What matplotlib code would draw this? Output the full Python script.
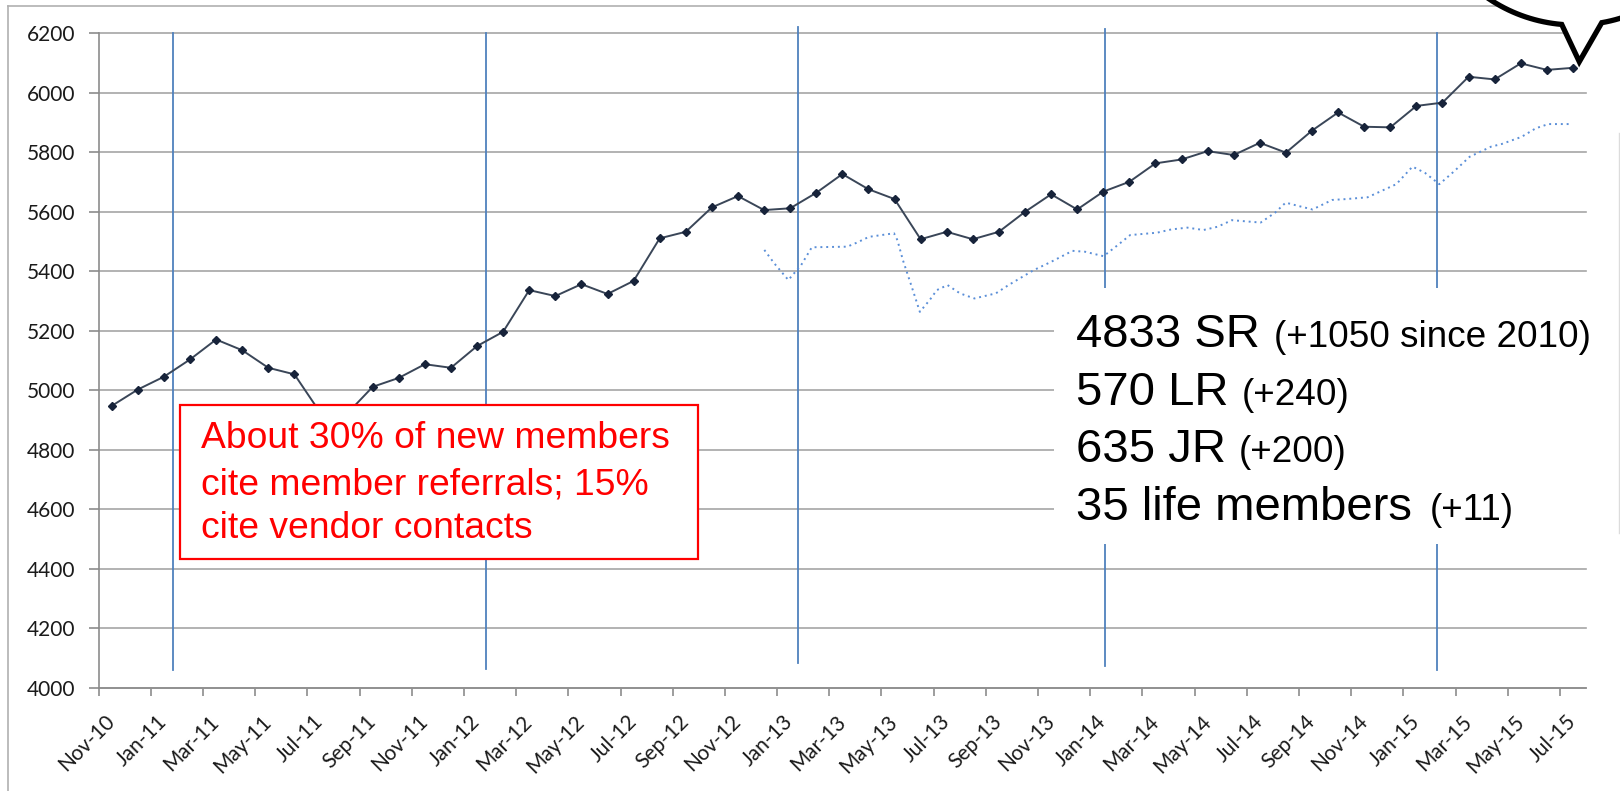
import matplotlib
matplotlib.use("Agg")
import matplotlib.pyplot as plt
from matplotlib.patches import Rectangle, PathPatch
from matplotlib.path import Path
from matplotlib.lines import Line2D
import numpy as np
import pandas as pd

# ---------------- data ----------------
months = list(pd.date_range("2010-11-01", periods=57, freq="MS").strftime("%b-%y"))
members = [4948, 5003, 5046, 5104, 5171, 5135, 5076, 5054, 4924, 4920,
           5012, 5042, 5088, 5076, 5149, 5197, 5337, 5317, 5357, 5324,
           5368, 5511, 5533, 5615, 5653, 5606, 5612, 5664, 5727, 5676,
           5643, 5508, 5533, 5508, 5533, 5600, 5659, 5608, 5668, 5701,
           5763, 5776, 5804, 5791, 5832, 5799, 5873, 5934, 5886, 5884,
           5956, 5967, 6054, 6045, 6099, 6077, 6084]
# second (dotted) series, positions in month units from Nov-10
blue_x = [25.01, 25.39, 25.93, 26.42, 26.83, 28.19, 28.54, 29.02, 29.98, 30.11,
          30.32, 30.66, 30.97, 31.35, 31.62, 32.03, 32.51, 33.06, 33.88, 34.37,
          35.33, 36.00, 36.82, 37.30, 38.01, 38.55, 39.03, 40.06, 40.61, 41.22,
          41.84, 42.38, 42.93, 43.48, 44.03, 44.58, 44.99, 45.47, 46.02, 46.77,
          47.32, 48.13, 48.68, 49.23, 49.85, 50.33, 50.88, 51.43, 52.04, 52.86,
          53.27, 54.03, 54.58, 55.06, 55.88]
blue_y = [5472, 5427, 5371, 5421, 5481, 5483, 5496, 5516, 5528, 5505,
          5438, 5348, 5264, 5304, 5337, 5354, 5326, 5309, 5326, 5354,
          5404, 5432, 5469, 5466, 5451, 5488, 5522, 5530, 5541, 5547,
          5539, 5550, 5572, 5568, 5564, 5597, 5631, 5620, 5608, 5640,
          5643, 5649, 5671, 5693, 5752, 5731, 5693, 5735, 5785, 5819,
          5828, 5852, 5881, 5895, 5895]
# vertical marker lines (month position, bottom value, top value)
vline_x = [2.35, 14.34, 26.31, 38.07, 50.78]
vline_bottom = [4060, 4064, 4085, 4073, 4060]
vline_top = [6200, 6200, 6222, 6213, 6202]
yticks = list(range(4000, 6201, 200))

box_lines = ["About 30% of new members",
             "cite member referrals; 15%",
             "cite vendor contacts"]
stat_big = ["4833 SR", "570 LR", "635 JR", "35 life members"]
stat_small = ["(+1050 since 2010)", "(+240)", "(+200)", "(+11)"]

# ---------------- figure ----------------
W, H, DPI = 1620, 791, 100
fig = plt.figure(figsize=(W / DPI, H / DPI), dpi=DPI)
fig.patch.set_facecolor("white")


def fx(x):
    return x / W


def fy(y):
    return 1 - y / H


ax = fig.add_axes([fx(98.7), fy(688), (1586 - 98.7) / W, (688 - 33.3) / H])
ax.set_xlim(-0.5, 56.5)
ax.set_ylim(4000, 6200)

grey = "#a6a6a6"
ax.set_yticks(yticks)
ax.grid(axis="y", color=grey, lw=1.2)
ax.set_axisbelow(True)
for gl in ax.get_ygridlines():
    gl.set_clip_on(False)
for s in ["top", "right"]:
    ax.spines[s].set_visible(False)
for s in ["left", "bottom"]:
    ax.spines[s].set_color("#8c8c8c")
    ax.spines[s].set_linewidth(1.2)

ax.tick_params(axis="y", length=7, width=1.2, color="#8c8c8c", pad=10,
               labelsize=15, labelcolor="#1a1a1a")
for lab in ax.get_yticklabels():
    lab.set_family("Lato")

ax.set_xticks(np.arange(-0.5, 56.6, 2))
ax.set_xticklabels([])
ax.tick_params(axis="x", which="major", length=5.5, width=1.2, color="#8c8c8c")
ax.set_xticks(np.arange(0, 57, 2), minor=True)
ax.set_xticklabels(months[::2], minor=True, rotation=45, ha="right",
                   va="center", rotation_mode="anchor", family="Lato",
                   fontsize=15, color="#1a1a1a")
ax.tick_params(axis="x", which="minor", length=0, pad=22)

for x, b, t in zip(vline_x, vline_bottom, vline_top):
    ax.plot([x, x], [b, t], color="#4f81bd", lw=1.3, zorder=2, clip_on=False)

ax.plot(blue_x, blue_y, color="#5b8fd8", lw=1.4, ls=(0, (1, 2)), zorder=3)
ax.plot(range(len(members)), members, color="#3a4658", lw=1.4, zorder=4,
        marker="D", markersize=4, markerfacecolor="#17233a",
        markeredgecolor="#17233a")

# ---------------- page decorations ----------------
bc = "#b0b0b0"
fig.add_artist(Line2D([fx(8), fx(8)], [fy(6), 0], transform=fig.transFigure,
                      color=bc, lw=1.2, zorder=1))
fig.add_artist(Line2D([fx(8), 1], [fy(6), fy(6)], transform=fig.transFigure,
                      color=bc, lw=1.2, zorder=1))
fig.add_artist(Line2D([fx(1618.5), fx(1618.5)], [fy(133), fy(533)],
                      transform=fig.transFigure, color="#dcdcdc", lw=1.0, zorder=1))

# red text box
fig.add_artist(Rectangle((fx(179.5), fy(558.5)), (697.5 - 179.5) / W,
                         (558.5 - 404.5) / H, transform=fig.transFigure,
                         facecolor="white", edgecolor="#ff0000", lw=1.6, zorder=5))
for line, yb in zip(box_lines, [448.3, 494.5, 538.3]):
    fig.text(fx(200.7), fy(yb), line, color="#ff0000", fontsize=26.8,
             family="Liberation Sans", ha="left", va="baseline", zorder=6)

# statistics text (white background)
fig.add_artist(Rectangle((fx(1054), fy(544)), (1606 - 1054) / W, (544 - 288) / H,
                         transform=fig.transFigure, facecolor="white",
                         edgecolor="none", zorder=5))
small_x = [1273.6, 1242, 1238.6, 1429.6]
for big, small, yb, sx in zip(stat_big, stat_small, [346.7, 405, 461.7, 520], small_x):
    fig.text(fx(1076), fy(yb), big, color="black", fontsize=34,
             family="Liberation Sans", ha="left", va="baseline", zorder=6)
    fig.text(fx(sx), fy(yb), small, color="black", fontsize=26.6,
             family="Liberation Sans", ha="left", va="baseline", zorder=6)

# speech bubble (top right)
cx, cy, a, b = 1575.0, -125.0, 152.5, 150.0
th = np.radians(np.linspace(95, 360 + 79.9, 200))
px = cx + a * np.cos(th)
py = cy + b * np.sin(th)
pts = list(zip(px, py)) + [(1579.3, 61.7), (px[0], py[0])]
verts = [(fx(x), fy(y)) for x, y in pts]
codes = [Path.MOVETO] + [Path.LINETO] * (len(verts) - 2) + [Path.CLOSEPOLY]
fig.add_artist(PathPatch(Path(verts, codes), transform=fig.transFigure,
                         facecolor="white", edgecolor="black", lw=3.8,
                         joinstyle="miter", zorder=7))

fig.savefig("out.png", dpi=DPI)
